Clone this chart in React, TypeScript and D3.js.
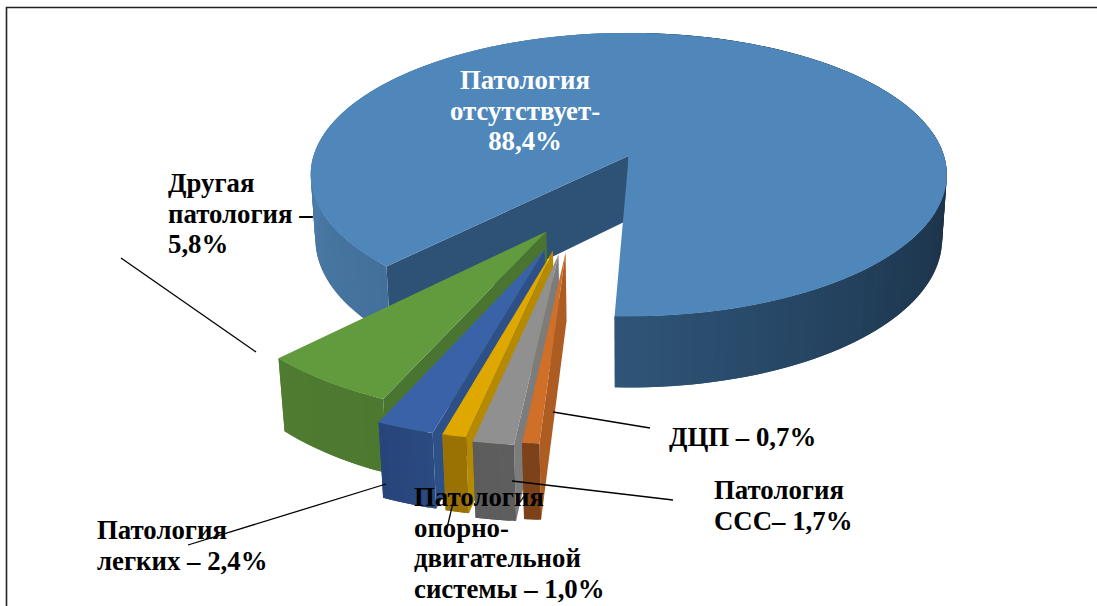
import { useEffect, useRef } from 'react'
import * as d3 from 'd3'

const WIDTH = 1097
const HEIGHT = 606

// slices clockwise, starting at the left edge of the big one
const sliceNames = ['Патология отсутствует', 'ДЦП', 'Патология ССС', 'Патология опорно-двигательной системы', 'Патология легких', 'Другая патология']
const sliceValues = [88.4, 0.7, 1.7, 1.0, 2.4, 5.8]
const sliceExplode = [0.43, 0.24, 0.255, 0.235, 0.236, 0.135]
const sliceRadius = [1, 0.985, 0.98, 0.985, 0.985, 0.988]
const topColors = ['#4f87ba', '#cf6f28', '#909090', '#dfa800', '#3a62a8', '#629a3e']
const sideColors = ['#2e5275', '#ad5c22', '#7c7c7c', '#b58a00', '#2d5088', '#4a7530']
const rimFrom = ['#1d3448', '#7c421a', '#5c5c5c', '#9a7204', '#27447a', '#4f7c30']
const rimTo = ['#2f5578', '#7c421a', '#5e5e5e', '#9a7204', '#2a4a80', '#4c7830']

const labels = [
  { x: 168, y: 192, lines: ['Другая', 'патология –', '5,8%'] },
  { x: 714, y: 499, lines: ['Патология', 'ССС– 1,7%'] },
  { x: 669, y: 446, lines: ['ДЦП – 0,7%'] },
  { x: 97, y: 539, lines: ['Патология', 'легких – 2,4%'] },
  { x: 414, y: 506, lines: ['Патология', 'опорно-', 'двигательной', 'системы – 1,0%'] },
]
const mainLabel = ['Патология', 'отсутствует-', '88,4%']
const leaders = [
  [[121, 258], [256, 352]],
  [[386, 484], [188, 545]],
  [[453, 503], [447, 528]],
  [[512, 481], [673, 500]],
  [[553, 412], [650, 428]],
]

// camera settings fitted on the big disc
const cx = 628.5
const cy = 155
const rx = 315
const ry = 139
const persp = 0.134
const shrink = 0.0147
const depth = 65
const pieCenter = [-0.168, 0.4]

function project(u: number, v: number, z: number): [number, number] {
  const w = 1 - persp * v + shrink * z
  return [cx + (rx * u) / w, cy + (ry * v + depth * z) / w]
}

export default function App() {
  const svgRef = useRef<SVGSVGElement>(null)

  useEffect(() => {
    if (!svgRef.current) return

    const svg = d3.select(svgRef.current)
    svg.selectAll('*').remove()

    const pie = d3.pie<number>()
      .sort(null)
      .value(d => d)
      .startAngle((224 * Math.PI) / 180)
      .endAngle((224 * Math.PI) / 180 + 2 * Math.PI)
    const arcs = pie(sliceValues)
    const line = d3.line()

    // frame, cut off by the bottom and right of the picture
    svg.append('path')
      .attr('d', line([[6.5, HEIGHT + 2], [6.5, 7.5], [WIDTH + 2, 7.5]]))
      .attr('fill', 'none')
      .attr('stroke', '#222')
      .attr('stroke-width', 1.6)

    // back to front: big slice, then left to right
    const drawOrder = [0, 5, 4, 3, 2, 1]
    drawOrder.forEach(i => {
      const a = arcs[i]
      const r = sliceRadius[i]
      const mid = (a.startAngle + a.endAngle) / 2
      const ox = pieCenter[0] + sliceExplode[i] * Math.sin(mid)
      const oy = pieCenter[1] - sliceExplode[i] * Math.cos(mid)
      const rim = (t: number, z: number) => {
        const ang = a.startAngle + t * (a.endAngle - a.startAngle)
        return project(ox + r * Math.sin(ang), oy - r * Math.cos(ang), z)
      }
      const g = svg.append('g').attr('class', 'slice').attr('data-name', sliceNames[i])

      // cut face on the clockwise-first edge
      g.append('path')
        .attr('d', line([project(ox, oy, 0), rim(0, 0), rim(0, 1), project(ox, oy, 1)]) + 'Z')
        .attr('fill', sideColors[i])

      // outer wall in thin strips for the shading, each one overlapping the next
      const steps = Math.max(8, Math.round(a.value * 2))
      const ts = d3.range(steps + 1).map(k => k / steps)
      const wallColor = i === 0
        ? (t: number) => {
            const deg = (((a.startAngle + t * (a.endAngle - a.startAngle)) * 180) / Math.PI) % 360
            return d3.scaleLinear<string>()
              .domain([90, 130, 182, 224, 270])
              .range(['#1b3044', '#213c57', '#2f5578', '#43709b', '#4b7ca8'])
              .clamp(true)(deg)
          }
        : d3.scaleLinear<string>().domain([0, 1]).range([rimTo[i], rimFrom[i]])
      ts.slice(0, -1).forEach((t, k) => {
        const next = ts[Math.min(k + 2, steps)]
        g.append('path')
          .attr('d', line([rim(t, 0), rim(next, 0), rim(next, 1), rim(t, 1)]) + 'Z')
          .attr('fill', wallColor(t))
      })

      // top face
      const n = Math.max(6, Math.round(a.value * 6))
      const topPts = [project(ox, oy, 0), ...d3.range(n + 1).map(k => rim(k / n, 0))]
      g.append('path')
        .attr('d', line(topPts) + 'Z')
        .attr('fill', topColors[i])
    })

    leaders.forEach(l => {
      svg.append('path')
        .attr('d', line(l as [number, number][]))
        .attr('fill', 'none')
        .attr('stroke', '#000')
        .attr('stroke-width', 1.3)
    })

    const font = '"Liberation Serif", "Times New Roman", serif'
    labels.forEach(l => {
      l.lines.forEach((txt, k) => {
        svg.append('text')
          .attr('x', l.x)
          .attr('y', l.y + k * 30.7)
          .attr('font-family', font)
          .attr('font-weight', 'bold')
          .attr('font-size', 26.8)
          .attr('fill', '#000')
          .text(txt)
      })
    })
    mainLabel.forEach((txt, k) => {
      svg.append('text')
        .attr('x', 525)
        .attr('y', 89 + k * 30.7)
        .attr('text-anchor', 'middle')
        .attr('font-family', font)
        .attr('font-weight', 'bold')
        .attr('font-size', 26.8)
        .attr('fill', '#fff')
        .text(txt)
    })
  }, [])

  return (
    <svg
      ref={svgRef}
      width={WIDTH}
      height={HEIGHT}
      style={{ position: 'absolute', left: 0, top: 0, background: '#fff' }}
    />
  )
}
